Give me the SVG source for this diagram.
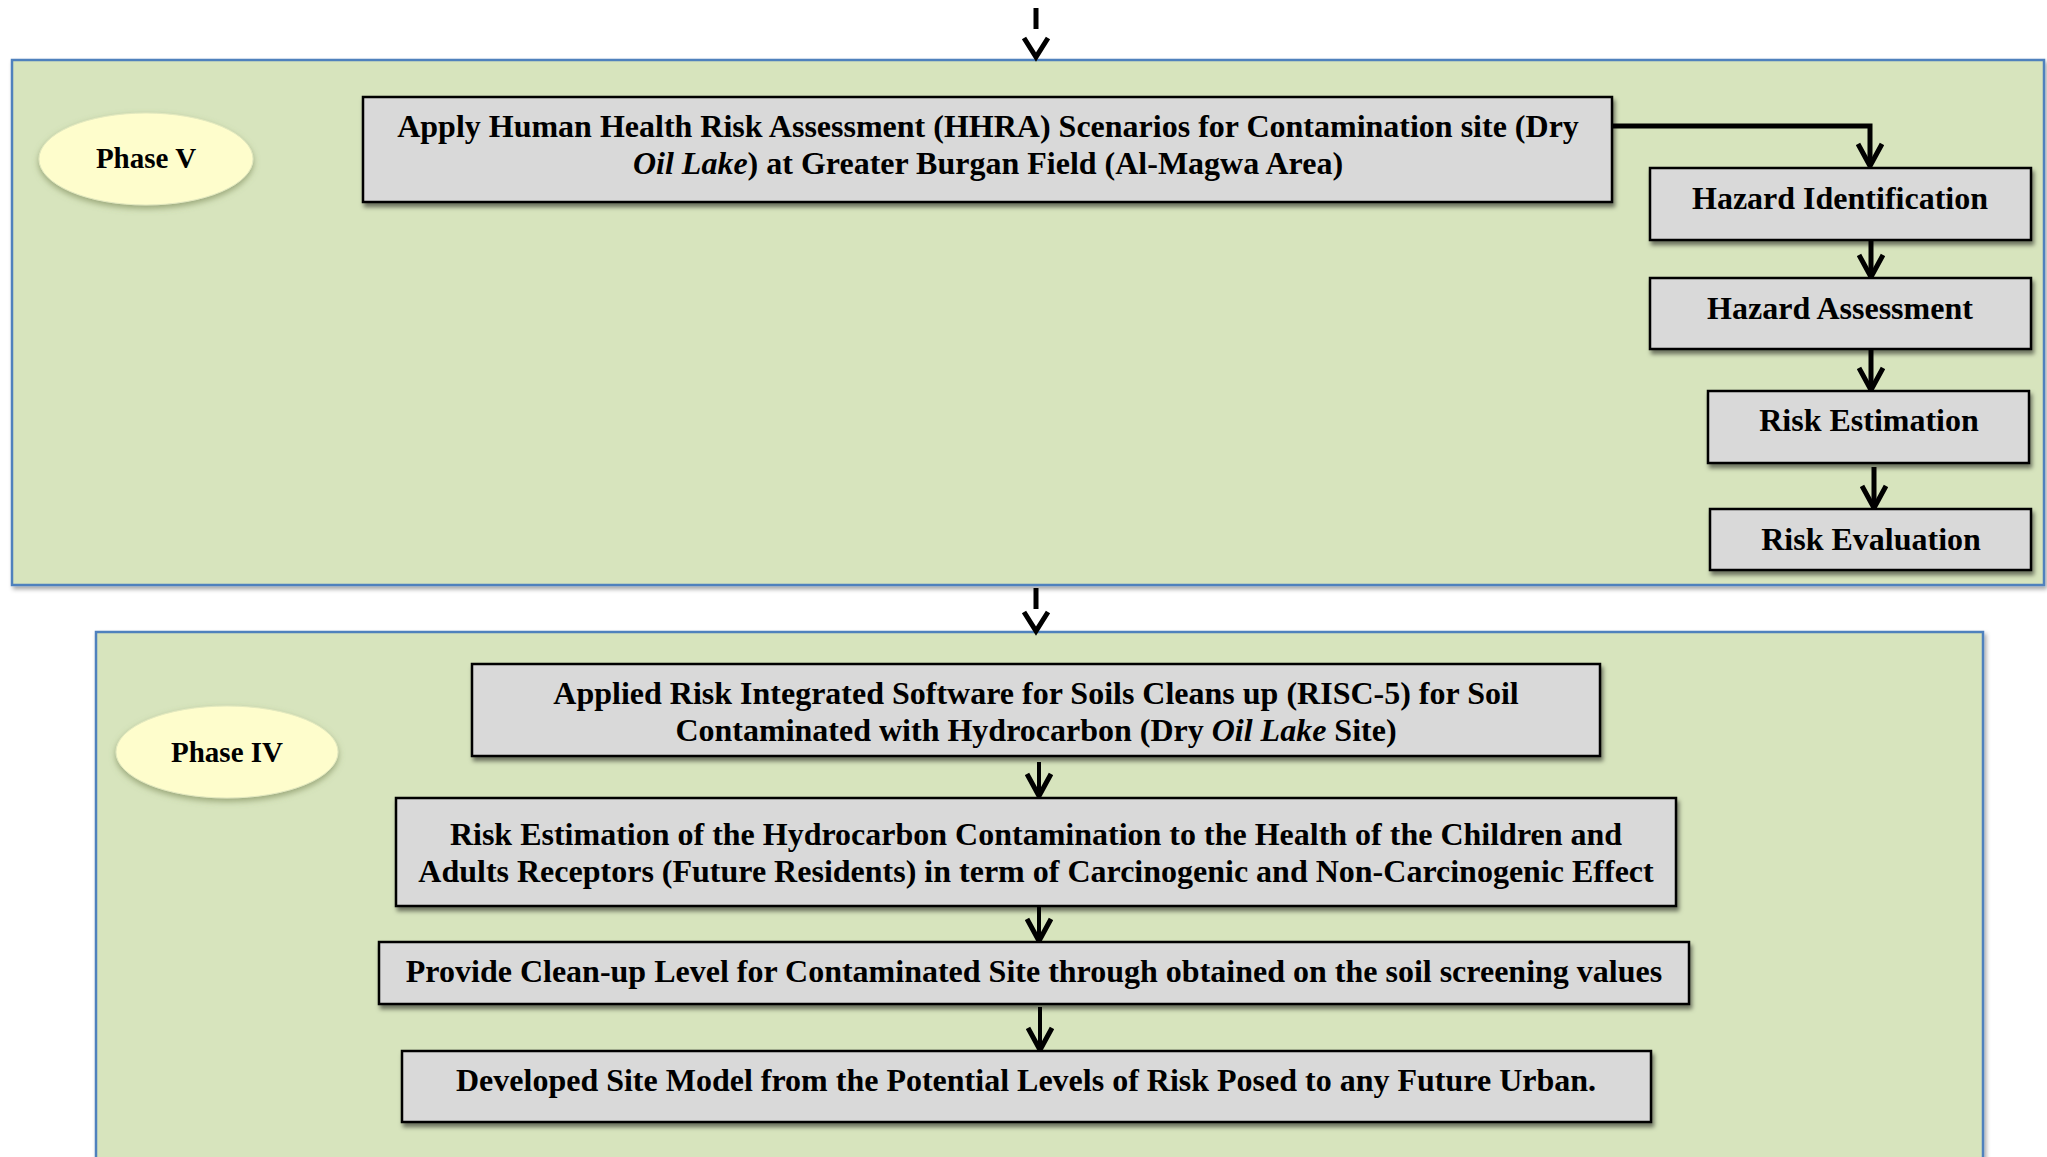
<svg xmlns="http://www.w3.org/2000/svg" width="2047" height="1157" viewBox="0 0 2047 1157">
  <defs>
    <filter id="panelShadow" x="-5%" y="-5%" width="110%" height="115%">
      <feDropShadow dx="2" dy="3" stdDeviation="2" flood-color="#000" flood-opacity="0.35"/>
    </filter>
    <filter id="boxShadow" x="-5%" y="-10%" width="110%" height="130%">
      <feDropShadow dx="2" dy="4" stdDeviation="2" flood-color="#000" flood-opacity="0.5"/>
    </filter>
    <filter id="ovalGlow" x="-20%" y="-30%" width="140%" height="170%">
      <feDropShadow dx="0" dy="3" stdDeviation="3" flood-color="#6f7f4c" flood-opacity="0.6"/>
    </filter>
    <marker id="chev" viewBox="0 0 28 28" refX="25" refY="14" markerWidth="28" markerHeight="28" markerUnits="userSpaceOnUse" orient="auto">
      <path d="M3,2 L25,14 L3,26" fill="none" stroke="#000" stroke-width="5"/>
    </marker>
  </defs>
  <style>
    .panel { fill: #d7e4bd; stroke: #4f81bd; stroke-width: 2.5; filter: url(#panelShadow); }
    .box { fill: #d9d9d9; stroke: #000; stroke-width: 2.5; filter: url(#boxShadow); }
    .oval { fill: #fefdcc; stroke: #e3e9bf; stroke-width: 1; filter: url(#ovalGlow); }
    .t { font-family: "Liberation Serif", "Times New Roman", serif; font-weight: bold; font-size: 32px; fill: #000; text-anchor: middle; }
    .lbl { font-size: 29px; }
    .it { font-style: italic; }
    .link { fill: none; stroke: #000; stroke-width: 5; }
    .thin { stroke-width: 4; }
  </style>

  <rect width="2047" height="1157" fill="#fff"/>

  <!-- Phase frames -->
  <g id="phase-v-frame">
    <rect class="panel" x="12" y="60" width="2032" height="525"/>
  </g>
  <g id="phase-iv-frame">
    <rect class="panel" x="96" y="632" width="1887" height="560"/>
  </g>

  <!-- Connectors -->
  <g id="connectors">
    <!-- entry arrow above Phase V -->
    <line class="link" x1="1036" y1="8" x2="1036" y2="29"/>
    <path class="link" d="M1024,38 L1036,57 L1048,38"/>
    <!-- arrow between the two phases -->
    <line class="link" x1="1036" y1="588" x2="1036" y2="609"/>
    <path class="link" d="M1024,612 L1036,631 L1048,612"/>

    <path class="link" d="M1612,126 H1870 V166" marker-end="url(#chev)"/>
    <line class="link" x1="1871" y1="241" x2="1871" y2="277" marker-end="url(#chev)"/>
    <line class="link" x1="1871" y1="350" x2="1871" y2="390" marker-end="url(#chev)"/>
    <line class="link" x1="1874" y1="467" x2="1874" y2="508" marker-end="url(#chev)"/>

    <line class="link thin" x1="1039" y1="762" x2="1039" y2="796" marker-end="url(#chev)"/>
    <line class="link thin" x1="1039" y1="907" x2="1039" y2="941" marker-end="url(#chev)"/>
    <line class="link thin" x1="1040" y1="1007" x2="1040" y2="1050" marker-end="url(#chev)"/>
  </g>

  <!-- Phase V -->
  <g id="phase-v-label">
    <ellipse class="oval" cx="146" cy="159" rx="107" ry="46"/>
    <text class="t lbl" x="146" y="168">Phase V</text>
  </g>
  <g id="hhra">
    <rect class="box" x="363" y="97" width="1249" height="105"/>
    <text class="t" x="988" y="137">Apply Human Health Risk Assessment (HHRA) Scenarios for Contamination site (Dry</text>
    <text class="t" x="988" y="174"><tspan class="it">Oil Lake</tspan>) at Greater Burgan Field (Al-Magwa Area)</text>
  </g>
  <g id="hazard-identification">
    <rect class="box" x="1650" y="168" width="381" height="72"/>
    <text class="t" x="1840" y="209">Hazard Identification</text>
  </g>
  <g id="hazard-assessment">
    <rect class="box" x="1650" y="278" width="381" height="71"/>
    <text class="t" x="1840" y="319">Hazard Assessment</text>
  </g>
  <g id="risk-estimation">
    <rect class="box" x="1708" y="391" width="321" height="72"/>
    <text class="t" x="1869" y="431">Risk Estimation</text>
  </g>
  <g id="risk-evaluation">
    <rect class="box" x="1710" y="509" width="321" height="61"/>
    <text class="t" x="1871" y="550">Risk Evaluation</text>
  </g>

  <!-- Phase IV -->
  <g id="phase-iv-label">
    <ellipse class="oval" cx="227" cy="752" rx="111" ry="46"/>
    <text class="t lbl" x="227" y="762">Phase IV</text>
  </g>
  <g id="risc5">
    <rect class="box" x="472" y="664" width="1128" height="92"/>
    <text class="t" x="1036" y="704">Applied Risk Integrated Software for Soils Cleans up (RISC-5) for Soil</text>
    <text class="t" x="1036" y="741">Contaminated with Hydrocarbon (Dry <tspan class="it">Oil Lake</tspan> Site)</text>
  </g>
  <g id="risk-estimation-receptors">
    <rect class="box" x="396" y="798" width="1280" height="108"/>
    <text class="t" x="1036" y="845">Risk Estimation of the Hydrocarbon Contamination to the Health of the Children and</text>
    <text class="t" x="1036" y="882">Adults Receptors (Future Residents) in term of Carcinogenic and Non-Carcinogenic Effect</text>
  </g>
  <g id="clean-up-level">
    <rect class="box" x="379" y="942" width="1310" height="62"/>
    <text class="t" x="1034" y="982">Provide Clean-up Level for Contaminated Site through obtained on the soil screening values</text>
  </g>
  <g id="site-model">
    <rect class="box" x="402" y="1051" width="1249" height="71"/>
    <text class="t" x="1026" y="1091">Developed Site Model from the Potential Levels of Risk Posed to any Future Urban.</text>
  </g>
</svg>
